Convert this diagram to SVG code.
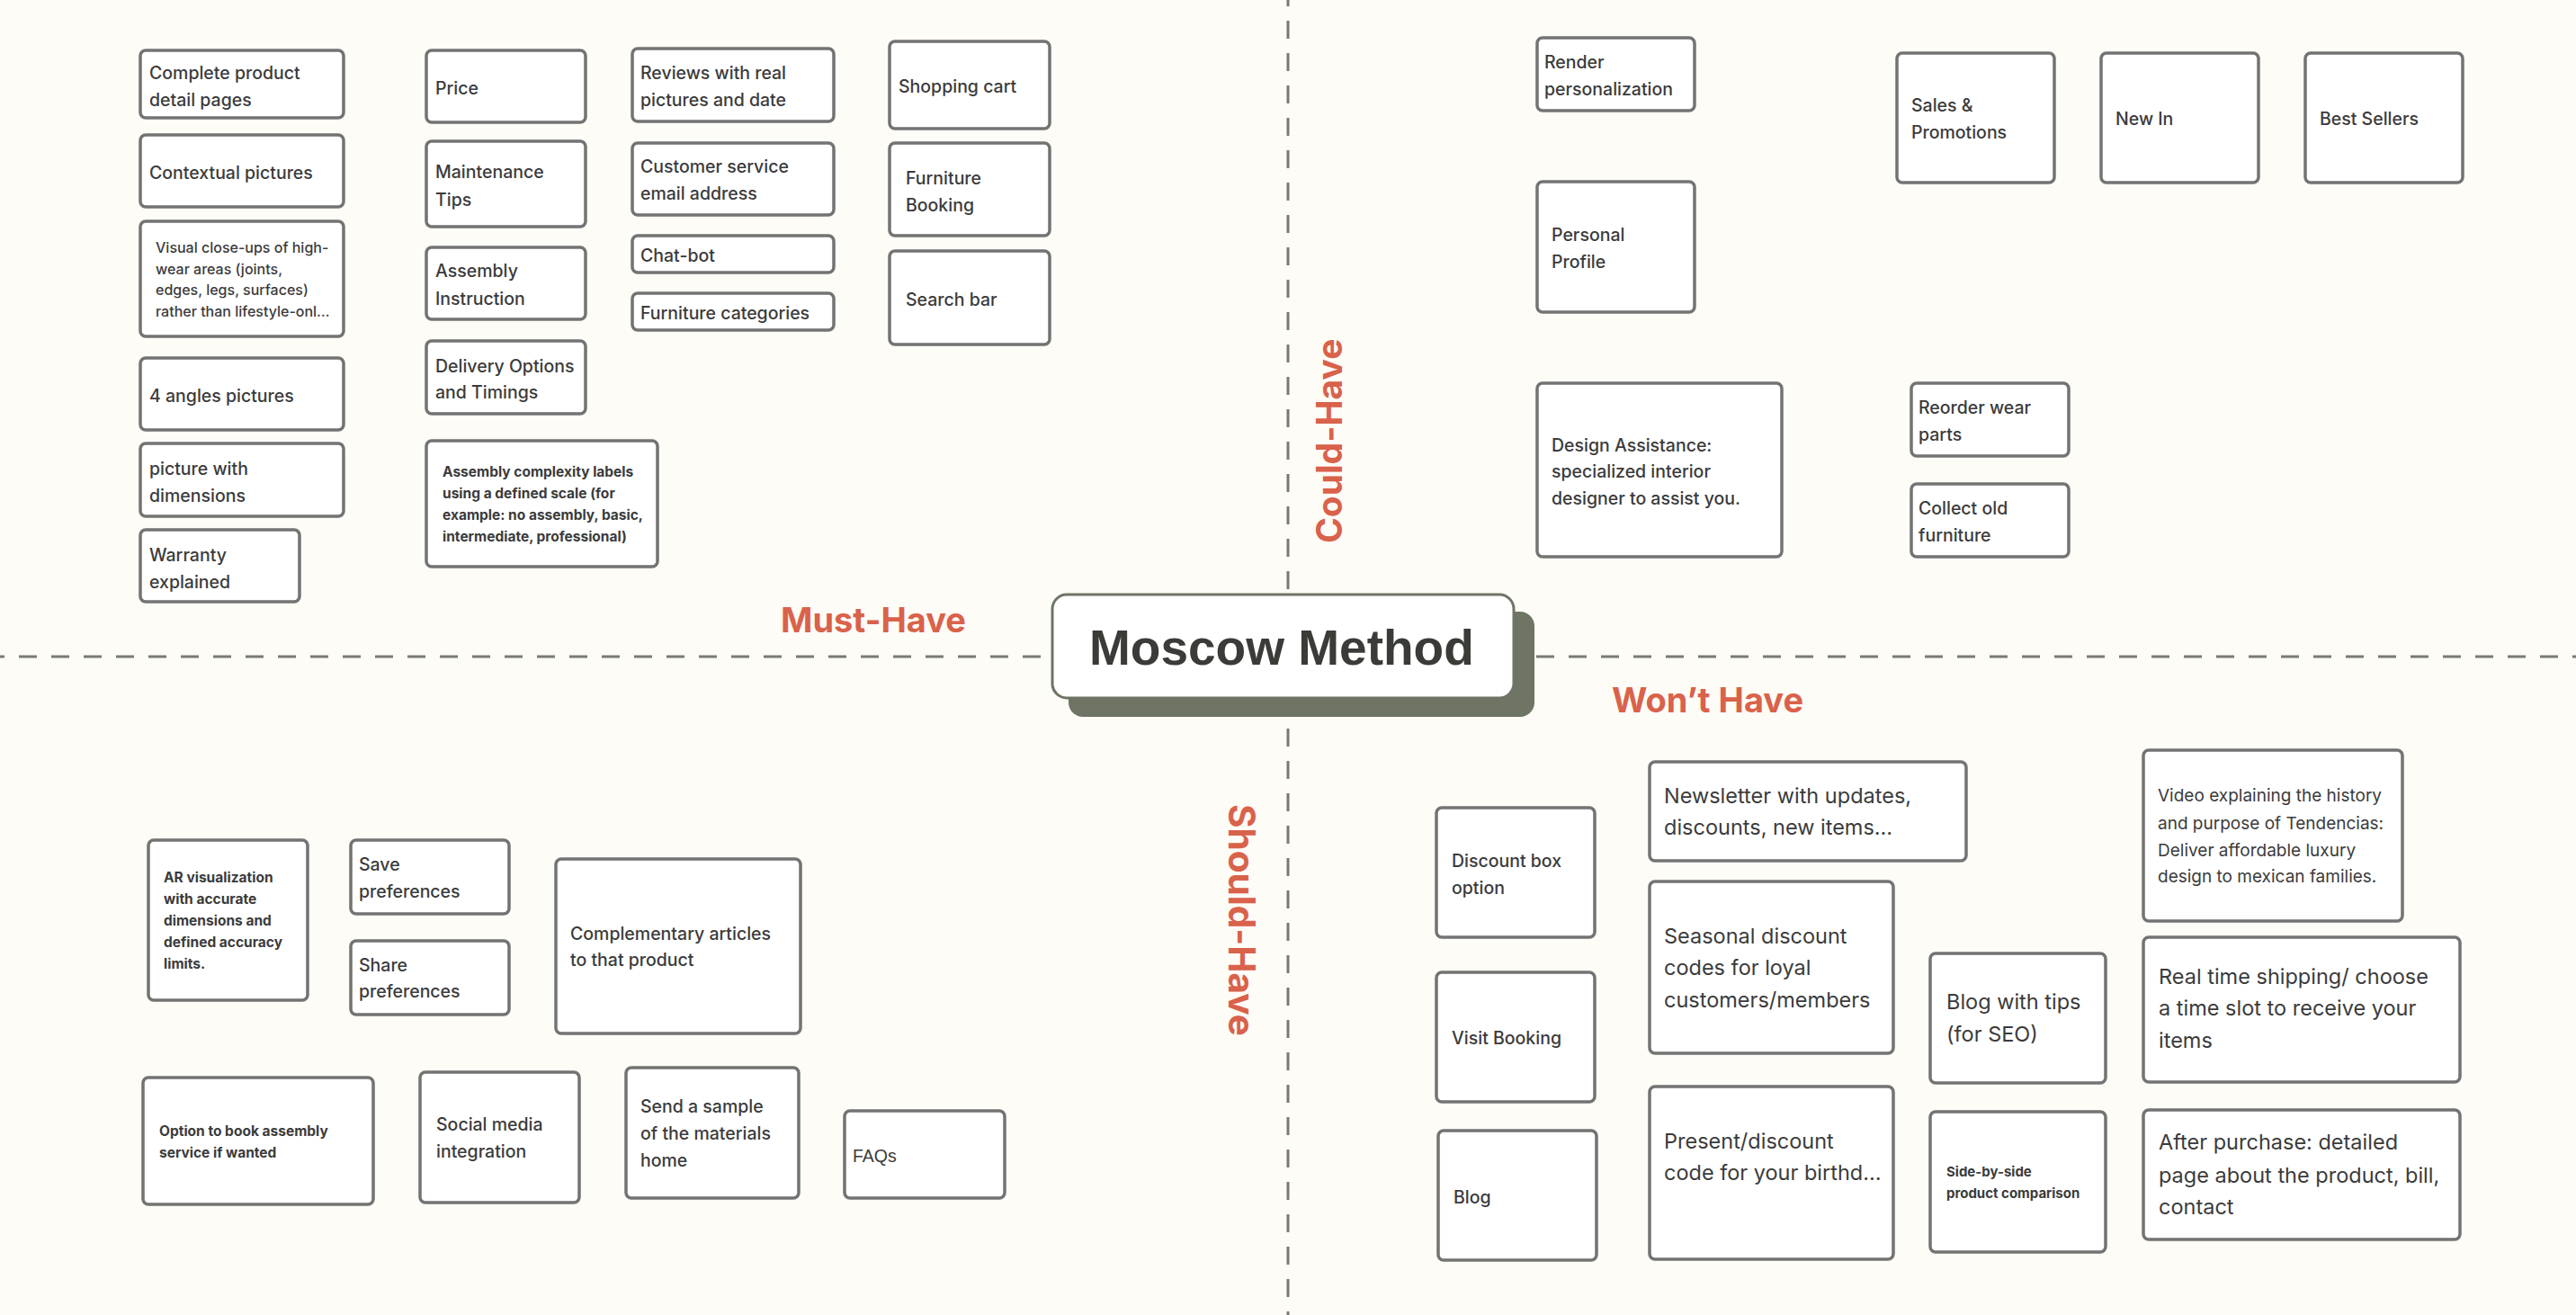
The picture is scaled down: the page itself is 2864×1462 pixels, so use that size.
<svg xmlns="http://www.w3.org/2000/svg" width="2864" height="1462" viewBox="0 0 2864 1462">
<style>
.bg{fill:#fefcf7}
.node rect{fill:#ffffff;stroke:#737373;stroke-width:3.5}
.t{font-family:Inter,"Liberation Sans",sans-serif;fill:#3b3b3b;font-weight:500;font-size:19.5px}
.s{font-size:15.5px;font-weight:700}
.w{font-weight:400;font-size:23.5px}
.v{font-weight:400;font-size:19px}
.f{font-family:"Liberation Sans",Arial,sans-serif;font-weight:400;font-size:19.5px}
.h{font-family:Inter,"Liberation Sans",sans-serif;font-weight:700;font-size:38px;fill:#d9624b}
.dash{stroke:#787b71;stroke-width:3;stroke-dasharray:20 16;fill:none}
</style>
<rect class="bg" x="0" y="0" width="2864" height="1462"/>

<g id="connectors">
<line class="dash" x1="-15" y1="730" x2="1160" y2="730"/>
<line class="dash" x1="1708" y1="730" x2="2880" y2="730"/>
<line class="dash" x1="1432" y1="-13" x2="1432" y2="655"/>
<line class="dash" x1="1432" y1="810" x2="1432" y2="1470"/>
</g>

<g id="labels">
<text class="h" x="868" y="703">Must-Have</text>
<text class="h" x="1792" y="792">Won’t Have</text>
<text class="h" style="font-size:39px" transform="translate(1492,604) rotate(-90)">Could-Have</text>
<text class="h" style="font-size:40.5px" transform="translate(1366,894) rotate(90)">Should-Have</text>
</g>

<g id="center">
<rect x="1188" y="680" width="518" height="117" rx="16" fill="#6f7565"/>
<rect x="1170" y="661" width="513" height="115" rx="16" fill="#ffffff" stroke="#6f7565" stroke-width="3"/>
<text x="1211" y="739" font-family="'Liberation Sans',Arial,sans-serif" font-weight="700" font-size="55" fill="#3a3c37">Moscow Method</text>
</g>

<!-- Must-Have -->
<g id="n1" class="node"><rect x="156" y="56" width="226" height="75" rx="6"/><text class="t" x="166" y="88">Complete product</text><text class="t" x="166" y="118">detail pages</text></g>
<g id="n2" class="node"><rect x="156" y="150" width="226" height="80" rx="6"/><text class="t" x="166" y="199">Contextual pictures</text></g>
<g id="n3" class="node"><rect x="156" y="246" width="226" height="128" rx="6"/><text class="t" style="font-size:16px" x="173" y="281">Visual close-ups of high-</text><text class="t" style="font-size:16px" x="173" y="304.5">wear areas (joints,</text><text class="t" style="font-size:16px" x="173" y="328">edges, legs, surfaces)</text><text class="t" style="font-size:16px" x="173" y="352">rather than lifestyle-onl…</text></g>
<g id="n4" class="node"><rect x="156" y="398" width="226" height="80" rx="6"/><text class="t" x="166" y="447">4 angles pictures</text></g>
<g id="n5" class="node"><rect x="156" y="493" width="226" height="81" rx="6"/><text class="t" x="166" y="528">picture with</text><text class="t" x="166" y="557.5">dimensions</text></g>
<g id="n6" class="node"><rect x="156" y="589" width="177" height="80" rx="6"/><text class="t" x="166" y="624">Warranty</text><text class="t" x="166" y="653.5">explained</text></g>
<g id="n7" class="node"><rect x="474" y="56" width="177" height="80" rx="6"/><text class="t" x="484" y="104.5">Price</text></g>
<g id="n8" class="node"><rect x="474" y="157" width="177" height="95" rx="6"/><text class="t" x="484" y="198">Maintenance</text><text class="t" x="484" y="228.5">Tips</text></g>
<g id="n9" class="node"><rect x="474" y="275" width="177" height="80" rx="6"/><text class="t" x="484" y="308">Assembly</text><text class="t" x="484" y="339">Instruction</text></g>
<g id="n10" class="node"><rect x="474" y="379" width="177" height="81" rx="6"/><text class="t" x="484" y="413.5">Delivery Options</text><text class="t" x="484" y="443">and Timings</text></g>
<g id="n11" class="node"><rect x="474" y="490" width="257" height="140" rx="6"/><text class="t s" x="492" y="530">Assembly complexity labels</text><text class="t s" x="492" y="553.5">using a defined scale (for</text><text class="t s" x="492" y="578">example: no assembly, basic,</text><text class="t s" x="492" y="601.5">intermediate, professional)</text></g>
<g id="n12" class="node"><rect x="703" y="54" width="224" height="81" rx="6"/><text class="t" x="712" y="88">Reviews with real</text><text class="t" x="712" y="117.5">pictures and date</text></g>
<g id="n13" class="node"><rect x="703" y="159" width="224" height="80" rx="6"/><text class="t" x="712" y="192">Customer service</text><text class="t" x="712" y="221.5">email address</text></g>
<g id="n14" class="node"><rect x="703" y="262" width="224" height="41" rx="6"/><text class="t" x="712" y="291">Chat-bot</text></g>
<g id="n15" class="node"><rect x="703" y="326" width="224" height="41" rx="6"/><text class="t" x="712" y="355">Furniture categories</text></g>
<g id="n16" class="node"><rect x="989" y="46" width="178" height="97" rx="6"/><text class="t" x="999" y="103">Shopping cart</text></g>
<g id="n17" class="node"><rect x="989" y="159" width="178" height="103" rx="6"/><text class="t" x="1007" y="204.5">Furniture</text><text class="t" x="1007" y="234.5">Booking</text></g>
<g id="n18" class="node"><rect x="989" y="279" width="178" height="104" rx="6"/><text class="t" x="1007" y="340">Search bar</text></g>

<!-- Could-Have -->
<g id="n19" class="node"><rect x="1709" y="42" width="175" height="81" rx="6"/><text class="t" x="1717" y="76">Render</text><text class="t" x="1717" y="105.5">personalization</text></g>
<g id="n20" class="node"><rect x="1709" y="202" width="175" height="145" rx="6"/><text class="t" x="1725" y="268">Personal</text><text class="t" x="1725" y="297.5">Profile</text></g>
<g id="n21" class="node"><rect x="1709" y="426" width="272" height="193" rx="6"/><text class="t" x="1725" y="501.5">Design Assistance:</text><text class="t" x="1725" y="531">specialized interior</text><text class="t" x="1725" y="561">designer to assist you.</text></g>
<g id="n22" class="node"><rect x="2109" y="59" width="175" height="144" rx="6"/><text class="t" x="2125" y="124">Sales &amp;</text><text class="t" x="2125" y="154">Promotions</text></g>
<g id="n23" class="node"><rect x="2336" y="59" width="175" height="144" rx="6"/><text class="t" x="2352" y="139">New In</text></g>
<g id="n24" class="node"><rect x="2563" y="59" width="175" height="144" rx="6"/><text class="t" x="2579" y="139">Best Sellers</text></g>
<g id="n25" class="node"><rect x="2125" y="426" width="175" height="81" rx="6"/><text class="t" x="2133" y="460">Reorder wear</text><text class="t" x="2133" y="489.5">parts</text></g>
<g id="n26" class="node"><rect x="2125" y="538" width="175" height="81" rx="6"/><text class="t" x="2133" y="572">Collect old</text><text class="t" x="2133" y="601.5">furniture</text></g>

<!-- Should-Have -->
<g id="n27" class="node"><rect x="165" y="934" width="177" height="178" rx="6"/><text class="t s" x="182" y="981">AR visualization</text><text class="t s" x="182" y="1005">with accurate</text><text class="t s" x="182" y="1029">dimensions and</text><text class="t s" x="182" y="1053">defined accuracy</text><text class="t s" x="182" y="1077">limits.</text></g>
<g id="n28" class="node"><rect x="390" y="934" width="176" height="82" rx="6"/><text class="t" x="399" y="968">Save</text><text class="t" x="399" y="997.5">preferences</text></g>
<g id="n29" class="node"><rect x="390" y="1046" width="176" height="82" rx="6"/><text class="t" x="399" y="1080">Share</text><text class="t" x="399" y="1109">preferences</text></g>
<g id="n30" class="node"><rect x="618" y="955" width="272" height="194" rx="6"/><text class="t" x="634" y="1045">Complementary articles</text><text class="t" x="634" y="1074">to that product</text></g>
<g id="n31" class="node"><rect x="159" y="1198" width="256" height="141" rx="6"/><text class="t s" x="177" y="1263">Option to book assembly</text><text class="t s" x="177" y="1287">service if wanted</text></g>
<g id="n32" class="node"><rect x="467" y="1192" width="177" height="145" rx="6"/><text class="t" x="485" y="1257">Social media</text><text class="t" x="485" y="1287">integration</text></g>
<g id="n33" class="node"><rect x="696" y="1187" width="192" height="145" rx="6"/><text class="t" x="712" y="1237">Send a sample</text><text class="t" x="712" y="1267">of the materials</text><text class="t" x="712" y="1297">home</text></g>
<g id="n34" class="node"><rect x="939" y="1235" width="178" height="97" rx="6"/><text class="t f" x="948" y="1292">FAQs</text></g>

<!-- Won't Have -->
<g id="n35" class="node"><rect x="1597" y="898" width="176" height="144" rx="6"/><text class="t" x="1614" y="963.5">Discount box</text><text class="t" x="1614" y="993.5">option</text></g>
<g id="n36" class="node"><rect x="1597" y="1081" width="176" height="144" rx="6"/><text class="t" x="1614" y="1160.5">Visit Booking</text></g>
<g id="n37" class="node"><rect x="1599" y="1257" width="176" height="144" rx="6"/><text class="t" x="1616" y="1337.5">Blog</text></g>
<g id="n38" class="node"><rect x="1834" y="847" width="352" height="110" rx="6"/><text class="t w" x="1850" y="892.5">Newsletter with updates,</text><text class="t w" x="1850" y="928">discounts, new items…</text></g>
<g id="n39" class="node"><rect x="1834" y="980" width="271" height="191" rx="6"/><text class="t w" x="1850" y="1048.5">Seasonal discount</text><text class="t w" x="1850" y="1084">codes for loyal</text><text class="t w" x="1850" y="1119.5">customers/members</text></g>
<g id="n40" class="node"><rect x="1834" y="1208" width="271" height="192" rx="6"/><text class="t w" x="1850" y="1276.5">Present/discount</text><text class="t w" x="1850" y="1312">code for your birthd…</text></g>
<g id="n41" class="node"><rect x="2146" y="1060" width="195" height="144" rx="6"/><text class="t w" x="2164" y="1122">Blog with tips</text><text class="t w" x="2164" y="1158">(for SEO)</text></g>
<g id="n42" class="node"><rect x="2146" y="1236" width="195" height="156" rx="6"/><text class="t s" style="font-size:15px" x="2164" y="1308">Side-by-side</text><text class="t s" style="font-size:15px" x="2164" y="1331.5">product comparison</text></g>
<g id="n43" class="node"><rect x="2383" y="834" width="288" height="190" rx="6"/><text class="t v" x="2399" y="891">Video explaining the history</text><text class="t v" x="2399" y="921.5">and purpose of Tendencias:</text><text class="t v" x="2399" y="951.5">Deliver affordable luxury</text><text class="t v" x="2399" y="981">design to mexican families.</text></g>
<g id="n44" class="node"><rect x="2383" y="1042" width="352" height="161" rx="6"/><text class="t w" x="2400" y="1093.5">Real time shipping/ choose</text><text class="t w" x="2400" y="1129">a time slot to receive your</text><text class="t w" x="2400" y="1164.5">items</text></g>
<g id="n45" class="node"><rect x="2383" y="1234" width="352" height="144" rx="6"/><text class="t w" x="2400" y="1278">After purchase: detailed</text><text class="t w" x="2400" y="1314.5">page about the product, bill,</text><text class="t w" x="2400" y="1350">contact</text></g>
</svg>
